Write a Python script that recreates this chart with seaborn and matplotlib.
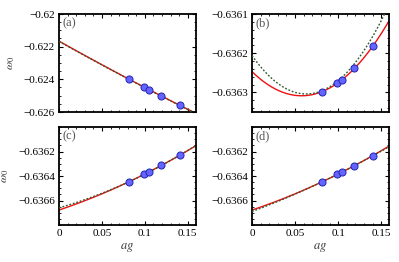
import numpy as np
import pandas as pd
import matplotlib
matplotlib.use("Agg")
import matplotlib.pyplot as plt
import seaborn as sns
from matplotlib.ticker import MultipleLocator, FuncFormatter

# ---- data ----
ag_points = [0.0815, 0.0990, 0.1050, 0.1185, 0.1405]
omega_a = [-0.62399, -0.62446, -0.62463, -0.62502, -0.62559]
omega_b = [-0.636298, -0.636277, -0.636269, -0.636238, -0.636181]
omega_c = [-0.636447, -0.636386, -0.636365, -0.636313, -0.636231]
omega_d = [-0.636447, -0.636384, -0.636365, -0.636316, -0.636234]

# fit coefficients (c0, c1, c2) of the drawn curves
red_fit_a = [-0.62166, -0.0295, 0.0111]
green_fit_a = [-0.62168, -0.0293, 0.0100]
red_fit_b = [-0.636247, -0.002139, 0.01857]
green_fit_b = [-0.636206, -0.003112, 0.0247]
red_fit_c = [-0.636678, 0.002354, 0.00589]
green_fit_c = [-0.636660, 0.002005, 0.00746]
red_fit_d = [-0.636678, 0.002360, 0.00580]
green_fit_d = [-0.636690, 0.002618, 0.00446]

panel_labels = ["(a)", "(b)", "(c)", "(d)"]
ylims = [(-0.626, -0.620), (-0.63635, -0.6361), (-0.6368, -0.6360), (-0.6368, -0.6360)]
yticks = [[-0.626, -0.624, -0.622, -0.620],
          [-0.6363, -0.6362, -0.6361],
          [-0.6366, -0.6364, -0.6362],
          [-0.6366, -0.6364, -0.6362]]
yminor = [0.0005, 0.00002, 0.00005, 0.00005]
xticks = [0, 0.05, 0.1, 0.15]
xlim = (0, 0.159)

sns.set_theme(style="white")
plt.rcParams["font.family"] = ["Liberation Serif", "DejaVu Serif"]
plt.rcParams["mathtext.fontset"] = "stix"
plt.rcParams["axes.unicode_minus"] = True

fig = plt.figure(figsize=(3.99, 2.62), dpi=100)
W, H = 399.0, 262.0
boxes = [(59, 195.5, 14, 112), (252, 389, 14, 112),
         (59, 195.5, 127, 225), (252, 389, 127, 225)]
axes = [fig.add_axes([l / W, 1 - b / H, (r - l) / W, (b - t) / H]) for (l, r, t, b) in boxes]

omegas = [omega_a, omega_b, omega_c, omega_d]
reds = [red_fit_a, red_fit_b, red_fit_c, red_fit_d]
greens = [green_fit_a, green_fit_b, green_fit_c, green_fit_d]


def fmt(v, pos):
    s = f"{v:.4f}".rstrip("0").rstrip(".")
    if s in ("-0", ""):
        s = "0"
    return s.replace("-", "\u2212")


xs = np.linspace(xlim[0], xlim[1], 300)
for i, ax in enumerate(axes):
    rc = reds[i]
    gc = greens[i]
    curve = pd.DataFrame({
        "x": xs,
        "red": rc[0] + rc[1] * xs + rc[2] * xs ** 2,
        "green": gc[0] + gc[1] * xs + gc[2] * xs ** 2,
    })
    sns.lineplot(data=curve, x="x", y="red", ax=ax, color="#ee1111", lw=1.0, zorder=2)
    sns.lineplot(data=curve, x="x", y="green", ax=ax, color="#2f5a2f", lw=1.0,
                 linestyle=(0, (1.3, 1.3)), zorder=3)
    pts = pd.DataFrame({"ag": ag_points, "omega": omegas[i]})
    sns.scatterplot(data=pts, x="ag", y="omega", ax=ax, s=26, color="#6464ff",
                    edgecolor="#2323b0", linewidth=0.7, zorder=4)
    ax.set_xlim(*xlim)
    ax.set_ylim(*ylims[i])
    ax.set_yticks(yticks[i])
    ax.set_xticks(xticks)
    ax.xaxis.set_minor_locator(MultipleLocator(0.01))
    ax.yaxis.set_minor_locator(MultipleLocator(yminor[i]))
    ax.yaxis.set_major_formatter(FuncFormatter(fmt))
    ax.xaxis.set_major_formatter(FuncFormatter(fmt))
    ax.tick_params(which="both", direction="in", top=True, right=True,
                   bottom=True, left=True, color="black")
    ax.tick_params(which="major", length=3, width=0.8, labelsize=8, pad=3,
                   labelcolor="black")
    ax.tick_params(which="minor", length=1.5, width=0.6)
    for sp in ax.spines.values():
        sp.set_color("black")
        sp.set_linewidth(1.3)
    ax.set_xlabel("")
    ax.set_ylabel("")
    ax.text(0.025, 0.965, panel_labels[i], transform=ax.transAxes, ha="left", va="top",
            fontsize=9, color="#555555")
    if i < 2:
        ax.tick_params(labelbottom=False)
    else:
        ax.set_xlabel("$ag$", fontsize=9, labelpad=2, color="#333333")
    if i % 2 == 0:
        ax.set_ylabel("$\\omega_0$", fontsize=8.5, labelpad=5, color="#333333")
    ax.legend_ = None

fig.savefig("out.png", dpi=100)
